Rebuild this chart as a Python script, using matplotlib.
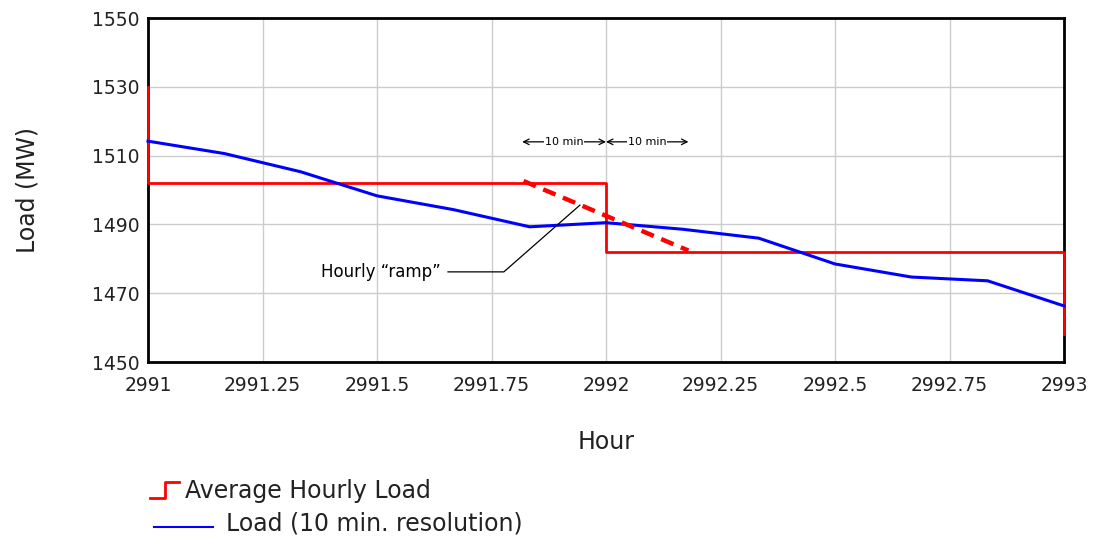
import matplotlib.pyplot as plt
from matplotlib.lines import Line2D

# average hourly load (step), before / hour 2991 / hour 2992 / after
step_hours = [2991, 2991, 2992, 2992, 2993, 2993]
step_load = [1530, 1502, 1502, 1482, 1482, 1458]

# 10-minute load samples
load_hours = [2991, 2991 + 1/6, 2991 + 2/6, 2991.5, 2991 + 4/6, 2991 + 5/6,
              2992, 2992 + 1/6, 2992 + 2/6, 2992.5, 2992 + 4/6, 2992 + 5/6, 2993]
load_mw = [1514.2, 1510.6, 1505.3, 1498.3, 1494.3, 1489.3,
           1490.5, 1488.6, 1486.0, 1478.5, 1474.7, 1473.6, 1466.3]

# hourly ramp line
ramp_hours = [2991.82, 2992.18]
ramp_mw = [1502.6, 1482.4]

xticks = [2991, 2991.25, 2991.5, 2991.75, 2992, 2992.25, 2992.5, 2992.75, 2993]
xtick_labels = ['2991', '2991.25', '2991.5', '2991.75', '2992', '2992.25', '2992.5', '2992.75', '2993']
yticks = [1450, 1470, 1490, 1510, 1530, 1550]

W, H = 1095, 541
fig = plt.figure(figsize=(W / 100, H / 100), dpi=100)
ax = fig.add_axes([148 / W, 1 - 362 / H, (1064 - 148) / W, (362 - 18) / H])

ax.plot(step_hours, step_load, color='#ff0000', linewidth=2, zorder=3, clip_on=False)
ax.plot(load_hours, load_mw, color='#0000ff', linewidth=2.2, zorder=4, clip_on=False)
ax.plot(ramp_hours, ramp_mw, color='#ff0000', linewidth=3.2, dashes=(3, 1.8), zorder=5)

# leader for the ramp label
ax.plot([2991.655, 2991.777, 2991.943], [1476.2, 1476.2, 1495.6], color='black', linewidth=0.9, zorder=6)
ax.text(2991.64, 1476.2, 'Hourly “ramp”', fontsize=12, ha='right', va='center', color='black')

# 10 min spans
for x0, x1 in [(2991.817, 2992.0), (2992.0, 2992.18)]:
    ax.annotate('', xy=(x0, 1514), xytext=(x1, 1514),
                arrowprops=dict(arrowstyle='<->', color='black', linewidth=0.9,
                                shrinkA=0, shrinkB=0, mutation_scale=10))
    ax.text((x0 + x1) / 2, 1514, '10 min', fontsize=8, ha='center', va='center',
            bbox=dict(facecolor='white', edgecolor='none', pad=0.5), zorder=7)

ax.set_xlim(2991, 2993)
ax.set_ylim(1450, 1550)
ax.set_xticks(xticks)
ax.set_xticklabels(xtick_labels)
ax.set_yticks(yticks)
ax.tick_params(length=0, labelsize=13.5, labelcolor='#222222')
ax.tick_params(axis='x', pad=10)
ax.tick_params(axis='y', pad=6)
ax.grid(True, color='#cccccc', linewidth=1)
ax.set_axisbelow(True)
for s in ax.spines.values():
    s.set_linewidth(2)
    s.set_color('black')

ax.set_xlabel('Hour', fontsize=17, color='#222222', labelpad=25)
ax.set_ylabel('Load (MW)', fontsize=17, color='#222222', labelpad=38)

# legend drawn by hand (two different handle widths)
def fx(px):
    return px / W

def fy(py):
    return 1 - py / H

fig.add_artist(Line2D([fx(150), fx(165), fx(165), fx(179)], [fy(498), fy(498), fy(482), fy(482)],
                      color='#ff0000', linewidth=2))
fig.text(fx(185), fy(491), 'Average Hourly Load', fontsize=17, va='center', color='#222222')
fig.add_artist(Line2D([fx(154), fx(213)], [fy(527), fy(527)], color='#0000ff', linewidth=1.5))
fig.text(fx(226), fy(523), 'Load (10 min. resolution)', fontsize=17, va='center', color='#222222')

fig.savefig('out.png', dpi=100)
